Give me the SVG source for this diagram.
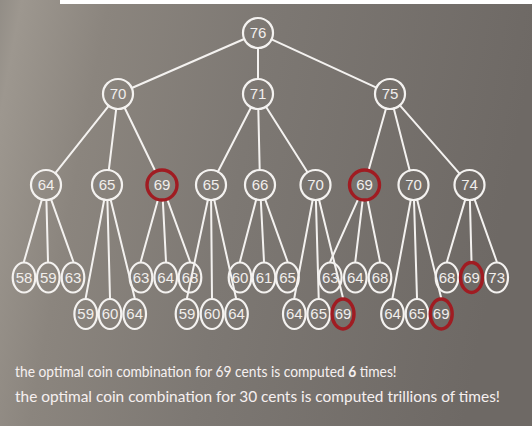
<svg xmlns="http://www.w3.org/2000/svg" width="532" height="426" viewBox="0 0 532 426">
<defs>
<linearGradient id="bg" x1="0" y1="0" x2="1" y2="0.15">
<stop offset="0" stop-color="#928d86"/>
<stop offset="0.04" stop-color="#9d978f"/>
<stop offset="0.2" stop-color="#8b857e"/>
<stop offset="0.5" stop-color="#7d7873"/>
<stop offset="1" stop-color="#6e6965"/>
</linearGradient>
<style>
.e{stroke:#f4f2f0;stroke-width:2;fill:none;stroke-linecap:round}
.n{fill:none;stroke:#f4f2f0;stroke-width:2.2}
.r{fill:none;stroke:#a01c22;stroke-width:3.4}
.t{font-family:"Liberation Sans",Arial,sans-serif;font-size:15px;fill:#f1eeec;text-anchor:middle}
.cap{font-family:Lato,"Open Sans",sans-serif;font-size:15px;fill:#f6f0f0}
</style>
</defs>
<rect width="532" height="426" fill="url(#bg)"/>
<rect x="60" y="0" width="472" height="4" fill="#ffffff"/>
<g id="connectors">
<line class="e" x1="244.2" y1="39" x2="131.8" y2="88"/>
<line class="e" x1="258" y1="48" x2="258" y2="79"/>
<line class="e" x1="271.6" y1="39.3" x2="376.4" y2="87.7"/>
<line class="e" x1="108.7" y1="105.8" x2="55.3" y2="173.2"/>
<line class="e" x1="116.2" y1="108.9" x2="108.8" y2="170.1"/>
<line class="e" x1="124.5" y1="107.5" x2="155.5" y2="171.5"/>
<line class="e" x1="251.1" y1="107.3" x2="217.9" y2="171.7"/>
<line class="e" x1="258.3" y1="109" x2="259.7" y2="170"/>
<line class="e" x1="266" y1="106.7" x2="307.5" y2="172.3"/>
<line class="e" x1="386" y1="108.4" x2="368.5" y2="170.6"/>
<line class="e" x1="393.8" y1="108.5" x2="409.7" y2="170.5"/>
<line class="e" x1="399.9" y1="105.3" x2="459.6" y2="173.7"/>
<line class="e" x1="41.9" y1="199.4" x2="24" y2="261.5"/>
<line class="e" x1="46.4" y1="200" x2="48" y2="261.5"/>
<line class="e" x1="51" y1="199.1" x2="73.3" y2="261.5"/>
<line class="e" x1="104.2" y1="199.7" x2="85.7" y2="298"/>
<line class="e" x1="107.4" y1="200" x2="110" y2="298"/>
<line class="e" x1="110.6" y1="199.6" x2="134.7" y2="298"/>
<line class="e" x1="158" y1="199.4" x2="140.8" y2="261.5"/>
<line class="e" x1="162.8" y1="200" x2="166" y2="261.5"/>
<line class="e" x1="167.2" y1="199.1" x2="190" y2="261.5"/>
<line class="e" x1="207.9" y1="199.7" x2="187" y2="298"/>
<line class="e" x1="211.1" y1="200" x2="212" y2="298"/>
<line class="e" x1="214.2" y1="199.6" x2="236" y2="298"/>
<line class="e" x1="256.2" y1="199.5" x2="240" y2="261.5"/>
<line class="e" x1="260.8" y1="200" x2="264" y2="261.5"/>
<line class="e" x1="265.1" y1="199.1" x2="287.5" y2="261.5"/>
<line class="e" x1="312.7" y1="199.7" x2="294.3" y2="298"/>
<line class="e" x1="315.9" y1="200" x2="318.7" y2="298"/>
<line class="e" x1="319" y1="199.6" x2="343" y2="298"/>
<line class="e" x1="358.4" y1="198.7" x2="330.3" y2="261.5"/>
<line class="e" x1="362.7" y1="199.9" x2="355.3" y2="261.5"/>
<line class="e" x1="367.5" y1="199.7" x2="380" y2="261.5"/>
<line class="e" x1="410.8" y1="199.7" x2="392.5" y2="298"/>
<line class="e" x1="414" y1="200" x2="417" y2="298"/>
<line class="e" x1="417.1" y1="199.6" x2="441.2" y2="298"/>
<line class="e" x1="465.3" y1="199.4" x2="447" y2="261.5"/>
<line class="e" x1="469.9" y1="200" x2="471.5" y2="261.5"/>
<line class="e" x1="474.5" y1="199.1" x2="496.7" y2="261.5"/>
</g>
<g id="n76"><circle class="n" cx="258" cy="33" r="15"/><text class="t" x="258" y="38.3">76</text></g>
<g id="n70a"><circle class="n" cx="118" cy="94" r="15"/><text class="t" x="118" y="99.3">70</text></g>
<g id="n71"><circle class="n" cx="258" cy="94" r="15"/><text class="t" x="258" y="99.3">71</text></g>
<g id="n75"><circle class="n" cx="390" cy="94" r="15"/><text class="t" x="390" y="99.3">75</text></g>
<g id="n64a"><circle class="n" cx="46" cy="185" r="15"/><text class="t" x="46" y="190.3">64</text></g>
<g id="n65a"><circle class="n" cx="107" cy="185" r="15"/><text class="t" x="107" y="190.3">65</text></g>
<g id="n69a"><circle class="r" cx="162" cy="185" r="15"/><text class="t" x="162" y="190.3">69</text></g>
<g id="n65b"><circle class="n" cx="211" cy="185" r="15"/><text class="t" x="211" y="190.3">65</text></g>
<g id="n66"><circle class="n" cx="260" cy="185" r="15"/><text class="t" x="260" y="190.3">66</text></g>
<g id="n70b"><circle class="n" cx="315.5" cy="185" r="15"/><text class="t" x="315.5" y="190.3">70</text></g>
<g id="n69b"><circle class="r" cx="364.5" cy="185" r="15"/><text class="t" x="364.5" y="190.3">69</text></g>
<g id="n70c"><circle class="n" cx="413.5" cy="185" r="15"/><text class="t" x="413.5" y="190.3">70</text></g>
<g id="n74"><circle class="n" cx="469.5" cy="185" r="15"/><text class="t" x="469.5" y="190.3">74</text></g>
<g id="l58"><ellipse class="n" cx="24" cy="277.5" rx="11.3" ry="15"/><text class="t" x="24" y="282.8">58</text></g>
<g id="l59a"><ellipse class="n" cx="48.3" cy="277.5" rx="11.3" ry="15"/><text class="t" x="48.3" y="282.8">59</text></g>
<g id="l63a"><ellipse class="n" cx="73" cy="277.5" rx="11.3" ry="15"/><text class="t" x="73" y="282.8">63</text></g>
<g id="l63b"><ellipse class="n" cx="141" cy="277.5" rx="11.3" ry="15"/><text class="t" x="141" y="282.8">63</text></g>
<g id="l64b"><ellipse class="n" cx="165.7" cy="277.5" rx="11.3" ry="15"/><text class="t" x="165.7" y="282.8">64</text></g>
<g id="l68b"><ellipse class="n" cx="190" cy="277.5" rx="11.3" ry="15"/><text class="t" x="190" y="282.8">68</text></g>
<g id="l60c"><ellipse class="n" cx="240" cy="277.5" rx="11.3" ry="15"/><text class="t" x="240" y="282.8">60</text></g>
<g id="l61"><ellipse class="n" cx="264" cy="277.5" rx="11.3" ry="15"/><text class="t" x="264" y="282.8">61</text></g>
<g id="l65c"><ellipse class="n" cx="287.5" cy="277.5" rx="11.3" ry="15"/><text class="t" x="287.5" y="282.8">65</text></g>
<g id="l63d"><ellipse class="n" cx="330.3" cy="277.5" rx="11.3" ry="15"/><text class="t" x="330.3" y="282.8">63</text></g>
<g id="l64d"><ellipse class="n" cx="355.3" cy="277.5" rx="11.3" ry="15"/><text class="t" x="355.3" y="282.8">64</text></g>
<g id="l68d"><ellipse class="n" cx="380" cy="277.5" rx="11.3" ry="15"/><text class="t" x="380" y="282.8">68</text></g>
<g id="l68f"><ellipse class="n" cx="447" cy="277.5" rx="11.3" ry="15"/><text class="t" x="447" y="282.8">68</text></g>
<g id="l69f"><ellipse class="r" cx="471.5" cy="277.5" rx="11" ry="15"/><text class="t" x="471.5" y="282.8">69</text></g>
<g id="l73"><ellipse class="n" cx="496.7" cy="277.5" rx="11.3" ry="15"/><text class="t" x="496.7" y="282.8">73</text></g>
<g id="l59b"><ellipse class="n" cx="85.7" cy="314" rx="11.3" ry="15"/><text class="t" x="85.7" y="319.3">59</text></g>
<g id="l60b"><ellipse class="n" cx="110" cy="314" rx="11.3" ry="15"/><text class="t" x="110" y="319.3">60</text></g>
<g id="l64c"><ellipse class="n" cx="134.7" cy="314" rx="11.3" ry="15"/><text class="t" x="134.7" y="319.3">64</text></g>
<g id="l59e"><ellipse class="n" cx="187" cy="314" rx="11.3" ry="15"/><text class="t" x="187" y="319.3">59</text></g>
<g id="l60e"><ellipse class="n" cx="212" cy="314" rx="11.3" ry="15"/><text class="t" x="212" y="319.3">60</text></g>
<g id="l64e"><ellipse class="n" cx="236.5" cy="314" rx="11.3" ry="15"/><text class="t" x="236.5" y="319.3">64</text></g>
<g id="l64g"><ellipse class="n" cx="294.3" cy="314" rx="11.3" ry="15"/><text class="t" x="294.3" y="319.3">64</text></g>
<g id="l65g"><ellipse class="n" cx="318.7" cy="314" rx="11.3" ry="15"/><text class="t" x="318.7" y="319.3">65</text></g>
<g id="l69g"><ellipse class="r" cx="343" cy="314" rx="11" ry="15"/><text class="t" x="343" y="319.3">69</text></g>
<g id="l64h"><ellipse class="n" cx="392.5" cy="314" rx="11.3" ry="15"/><text class="t" x="392.5" y="319.3">64</text></g>
<g id="l65h"><ellipse class="n" cx="417" cy="314" rx="11.3" ry="15"/><text class="t" x="417" y="319.3">65</text></g>
<g id="l69h"><ellipse class="r" cx="441.2" cy="314" rx="11" ry="15"/><text class="t" x="441.2" y="319.3">69</text></g>
<text class="cap" transform="translate(15,377) scale(0.92,1)" x="0" y="0">the optimal coin combination for 69 cents is computed <tspan font-weight="bold">6</tspan> times!</text>
<text class="cap" x="15" y="402" textLength="485" lengthAdjust="spacingAndGlyphs">the optimal coin combination for 30 cents is computed trillions of times!</text>
</svg>
